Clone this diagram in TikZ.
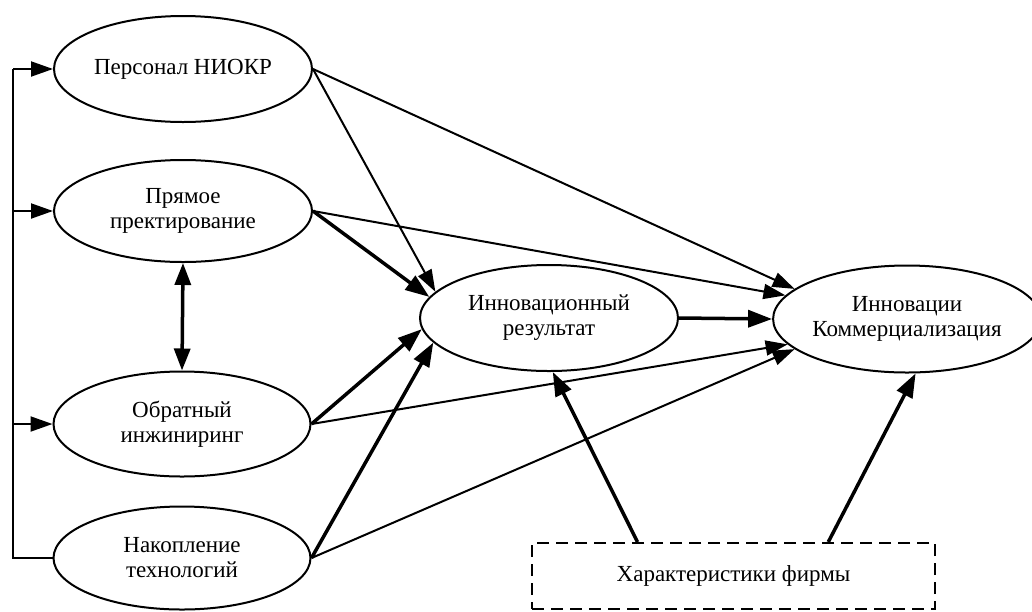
\documentclass[tikz,border=0pt]{standalone}
\usepackage{fontspec}
\setmainfont{Liberation Serif}
\usetikzlibrary{shapes.geometric,arrows.meta,calc}
\begin{document}
\begin{tikzpicture}[x=1pt,y=-1pt,
  oval/.style={ellipse,draw,line width=2pt,inner sep=0pt,align=center,font=\fontsize{23}{25}\selectfont},
  thin/.style={line width=2pt,-{Triangle[length=22pt,width=15pt]}},
  thick/.style={line width=3.5pt,-{Triangle[length=24pt,width=17pt]}},
  plain/.style={line width=2pt},
  fbox/.style={draw,line width=2pt,dash pattern=on 12pt off 7pt,inner sep=0pt,font=\fontsize{23}{25}\selectfont}]
\useasboundingbox (0,0) rectangle (1032,611);
\node[oval,minimum width=258pt,minimum height=106pt] (e1) at (183,69) {Персонал НИОКР};
\node[oval,minimum width=258pt,minimum height=102pt] (e2) at (183,211) {Прямое\\пректирование};
\node[oval,minimum width=257pt,minimum height=105pt] (e3) at (182,424) {Обратный\\инжиниринг};
\node[oval,minimum width=257pt,minimum height=103pt] (e4) at (182,558) {Накопление\\технологий};
\node[oval,minimum width=258pt,minimum height=106pt] (mid) at (549,318) {Инновационный\\результат};
\node[oval,minimum width=242pt,minimum height=107pt] (res) at (907,319) {Инновации\\Коммерциализация};
\node[fbox,minimum width=403pt,minimum height=66pt] (box) at (733.5,576) {Характеристики фирмы};
\coordinate (L) at (13,0);
% left feedback line
\draw[plain] (e4.west) -- (e4.west -| L) -- (e1.west -| L);
\draw[thin] (e1.west -| L) -- (e1.west);
\draw[thin] (e2.west -| L) -- (e2.west);
\draw[thin] (e3.west -| L) -- (e3.west);
% double arrow
\draw[line width=3.5pt,{Triangle[length=22pt,width=16pt]}-{Triangle[length=22pt,width=16pt]}] (e2.south) -- (e3.north);
% to middle
\draw[thin] (e1.east) -- (mid.167);
\draw[thick] (e2.east) -- (mid.170);
\draw[thick] (e3.east) -- (mid.185);
\draw[thick] (e4.east) -- (mid.192);
% to result
\draw[thin] (e1.east) -- (res.165);
\draw[thin] (e2.east) -- (res.169);
\draw[thin] (e3.east) -- (res.192);
\draw[thin] (e4.east) -- (res.195);
\draw[thick] (mid.east) -- (res.west);
% from box
\draw[thick] ($(box.north west)!0.263!(box.north east)$) -- (mid.274);
\draw[thick] ($(box.north west)!0.734!(box.north east)$) -- (res.279);
\end{tikzpicture}
\end{document}
